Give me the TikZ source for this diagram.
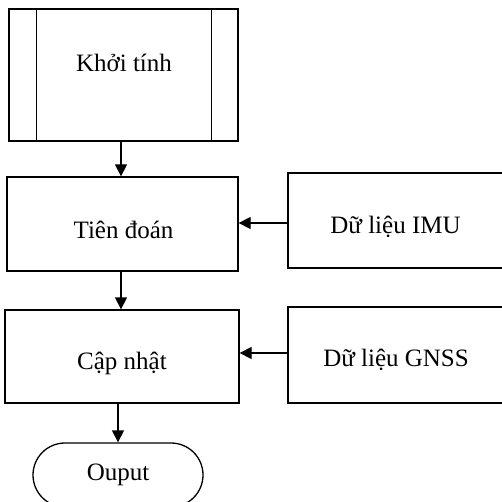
\documentclass[tikz,border=0pt]{standalone}
\usepackage{fontspec}
\setmainfont{Liberation Serif}
\usetikzlibrary{arrows.meta}
\begin{document}
\begin{tikzpicture}[x=1pt,y=-1pt,
  box/.style={draw,line width=1.3pt,rectangle,inner sep=0pt},
  txt/.style={inner sep=0pt,font=\fontsize{25}{30}\selectfont},
  arr/.style={line width=1.3pt,-{Triangle[length=12pt,width=12pt]}}]
\useasboundingbox (0,0) rectangle (501,502);
% Khoi tinh (predefined process)
\node[box,minimum width=229pt,minimum height=132pt] (init) at (123.5,75) {};
\draw[line width=1.3pt] ([xshift=28pt]init.north west) -- ([xshift=28pt]init.south west);
\draw[line width=1.3pt] ([xshift=-27pt]init.north east) -- ([xshift=-27pt]init.south east);
\node[txt] (tinit) at (124,63) {Khởi tính};
% Tien doan
\node[box,minimum width=231pt,minimum height=94pt] (pred) at (122.5,224) {};
\node[txt] (tpred) at (123.5,230) {Tiên đoán};
% IMU
\node[box,minimum width=217pt,minimum height=95pt] (imu) at (396.5,220.5) {};
\node[txt] (timu) at (395.5,227) {Dữ liệu IMU};
% Cap nhat
\node[box,minimum width=234pt,minimum height=93pt] (upd) at (122,356.5) {};
\node[txt] (tupd) at (122,363) {Cập nhật};
% GNSS
\node[box,minimum width=217pt,minimum height=96pt] (gnss) at (396.5,355) {};
\node[txt] (tgnss) at (396,360) {Dữ liệu GNSS};
% Output
\node[box,rounded corners=32pt,minimum width=170pt,minimum height=64pt] (out) at (118,475) {};
\node[txt] (tout) at (118,475) {Ouput};
% connectors
\draw[arr] ([xshift=-2.5pt]init.south) -- ([xshift=-2.5pt]init.south |- pred.north);
\draw[arr] ([xshift=-1.5pt]pred.south) -- ([xshift=-1.5pt]pred.south |- upd.north);
\draw[arr] (out.north |- upd.south) -- (out.north);
\draw[arr] (imu.west |- 0,223) -- (pred.east |- 0,223);
\draw[arr] (gnss.west |- 0,353) -- (upd.east |- 0,353);
\end{tikzpicture}
\end{document}
